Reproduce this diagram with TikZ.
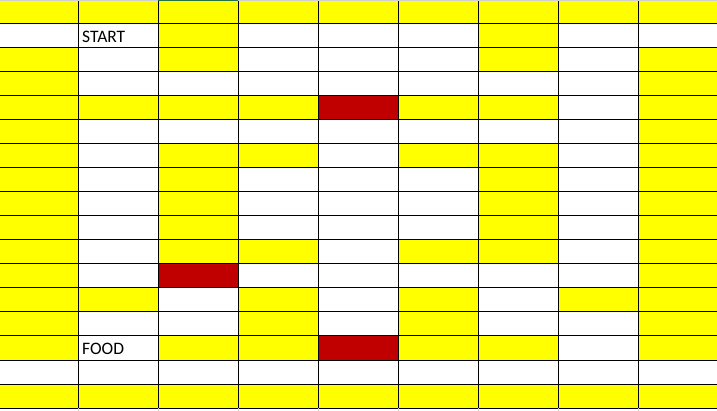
\documentclass[tikz,border=0pt]{standalone}
\usepackage{fontspec}
\setmainfont{Carlito}
\usepackage{xcolor}
\usepackage{tikz}

\definecolor{cellY}{HTML}{FFFF00}
\definecolor{cellW}{HTML}{FFFFFF}
\definecolor{cellR}{HTML}{C00000}
\definecolor{sheetgrey}{HTML}{D0D0D0}
\definecolor{selgreen}{HTML}{217346}

\tikzset{
  cell/.style      = {draw=black, line width=1pt, minimum width=80pt,
                      minimum height=24pt, inner sep=0pt, outer sep=0pt,
                      anchor=north west},
  celltext/.style  = {font=\fontsize{17.5}{20}\selectfont, inner sep=0pt,
                      anchor=base west},
  sheetline/.style = {sheetgrey, line width=1pt},
}

\begin{document}
\begin{tikzpicture}[x=1pt, y=-1pt]
  \useasboundingbox (0,0) rectangle (717,411);
  \fill[white] (0,0) rectangle (717,411);
  \clip (0,0) rectangle (717,411);

  % maze cells, one list per row
  \foreach \cols [count=\r from 0] in {%
    {Y,Y,Y,Y,Y,Y,Y,Y,Y},%
    {W,W,Y,W,W,W,Y,W,W},%
    {Y,W,Y,W,W,W,Y,W,Y},%
    {Y,W,W,W,W,W,W,W,Y},%
    {Y,Y,Y,Y,R,Y,Y,W,Y},%
    {Y,W,W,W,W,W,W,W,Y},%
    {Y,W,Y,Y,W,Y,Y,W,Y},%
    {Y,W,Y,W,W,W,Y,W,Y},%
    {Y,W,Y,W,W,W,Y,W,Y},%
    {Y,W,Y,W,W,W,Y,W,Y},%
    {Y,W,Y,Y,W,Y,Y,W,Y},%
    {Y,W,R,W,W,W,W,W,Y},%
    {Y,Y,W,Y,W,Y,W,Y,Y},%
    {Y,W,W,Y,W,Y,W,W,Y},%
    {Y,W,Y,Y,R,Y,Y,W,Y},%
    {W,W,W,W,W,W,W,W,W},%
    {Y,Y,Y,Y,Y,Y,Y,Y,Y}%
  }{
    \foreach \k [count=\c from 0] in \cols {
      \node[cell, fill=cell\k] (cell-\r-\c) at ({80*\c-2}, {24*\r}) {};
    }
  }

  \node[celltext] (start) at ([shift={(4pt,-19pt)}]cell-1-1.north west) {START};
  \node[celltext] (food)  at ([shift={(4pt,-19pt)}]cell-14-1.north west) {FOOD};

  % sheet edges
  \draw[sheetline] ([yshift=-0.5pt]cell-0-0.north west)
                -- ([yshift=-0.5pt]cell-0-8.north east);
  \draw[selgreen, line width=1pt] ([yshift=-0.5pt]cell-0-2.north west)
                -- ([yshift=-0.5pt]cell-0-2.north east);
  \foreach \c in {0,...,8}
    \draw[sheetline] (cell-16-\c.south west) -- ++(0,3);
\end{tikzpicture}
\end{document}
